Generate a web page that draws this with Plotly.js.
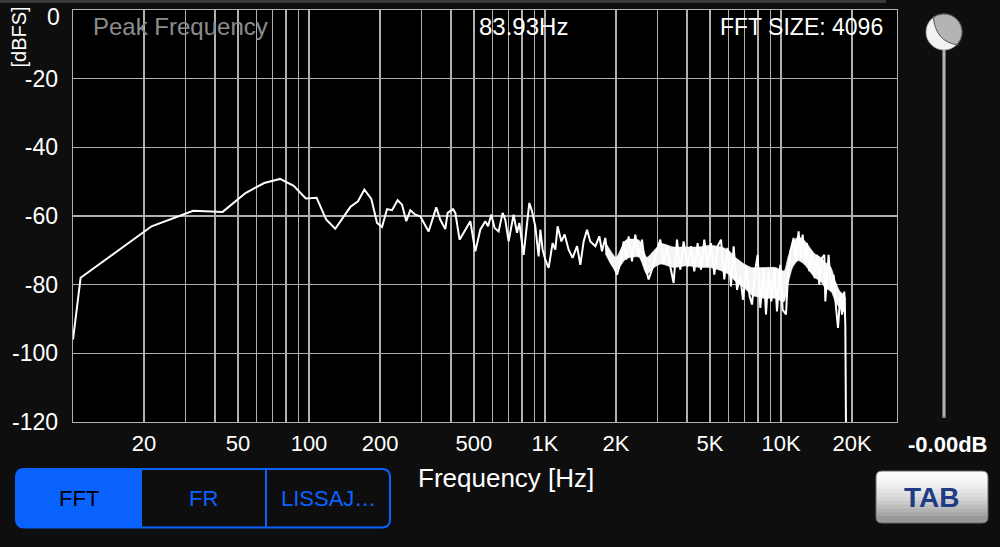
<!DOCTYPE html>
<html>
<head>
<meta charset="utf-8">
<script src="https://cdn.plot.ly/plotly-3.0.1.min.js"></script>
<style>
html,body{margin:0;padding:0;background:#0e0e0e;overflow:hidden;}
#chart{width:1000px;height:547px;}
</style>
</head>
<body>
<div id="chart"></div>
<script>
// ---- data (frequency in Hz, level in dBFS) ----
const freqHz = [
  10, 10.77, 21.53, 32.3, 43.07, 53.83, 64.6, 75.37, 86.13, 96.9,
  107.7, 118.4, 129.2, 149.6, 161.3, 171.6, 183.7, 194.2, 203.9, 214.1,
  224.8, 237.4, 247.8, 258.4, 268.7, 282.1, 296.2, 321.2, 346.2, 360.0,
  378.0, 386.7, 407.6, 416.8, 434.6, 456.3, 482.5, 506.7, 531.8, 558.5,
  573.5, 592.3, 611.6, 636.0, 661.3, 678.8, 701.1, 736.2, 761.0, 778.4,
  811.7, 831.0, 858.2, 881.0, 909.8, 939.5, 955.2, 976.8, 1003, 1036,
  1077, 1106, 1131, 1173, 1211, 1259, 1309, 1367, 1412, 1458,
  1507, 1556, 1634, 1699, 1744, 1801, 1831, 1891, 1953, 2019,
  2085, 2154, 2211, 2261, 2337, 2413, 2492, 2576, 2661, 2748,
  2869, 2983, 3081, 3182, 3289, 3396, 3507, 3625, 3744, 3867,
  4021, 4156, 4292, 4433, 4581, 4732, 4887, 5051, 5217, 5388,
  5569, 5751, 5940, 6140, 6299, 6511, 6724, 6902, 7129, 7362,
  7537, 7783, 7960, 8172, 8440, 8640, 8860, 9096, 9395, 9618,
  9931, 10160, 10500, 10708, 10950, 11310, 11580, 11870, 12110, 12350,
  12680, 12890, 13180, 13530, 13880, 14210, 14530, 14920, 15260, 15410,
  15910, 16330, 16710, 17110, 17440, 17840, 18140, 18540, 18730, 18910
];
const levelDb = [
  -96, -78, -63.0, -58.5, -58.8, -53.3, -50.4, -49.2, -51.2, -54.9,
  -54.7, -61.1, -63.7, -57.4, -55.7, -52.3, -55.0, -62.0, -63.2, -58.0,
  -58.3, -55.4, -56.7, -61.5, -58.3, -59.6, -60.1, -64.5, -57.5, -61.1,
  -63.8, -59.1, -58.0, -59.1, -66.9, -64.5, -61.5, -70.3, -64.0, -61.5,
  -63.0, -59.6, -63.5, -64.5, -59.1, -61.1, -67.4, -59.6, -64.9, -62.0,
  -71.3, -64.9, -56.2, -58.6, -63.0, -71.8, -64.0, -69.8, -72.7, -75.1,
  -67.9, -69.8, -63.0, -67.4, -65.4, -69.8, -72.2, -68.8, -74.2, -67.4,
  -64.0, -67.4, -68.8, -65.9, -70.3, -66.4, -70.8, -73.2, -74.7, -77.1,
  -73.7, -67.4, -72.7, -65.9, -73.2, -65.4, -71.8, -66.9, -74.7, -78.5,
  -74.7, -69.8, -66.9, -73.7, -68.8, -74.7, -79.5, -66.9, -75.6, -67.4,
  -74.7, -68.8, -76.1, -67.9, -75.6, -66.9, -74.7, -67.9, -77.1, -68.8,
  -66.9, -78.5, -69.3, -80.5, -68.8, -81.5, -77.6, -84.4, -74.7, -83.4,
  -85.8, -75.6, -71.3, -86.8, -75.1, -88.7, -76.1, -84.9, -75.6, -87.8,
  -74.2, -87.3, -88.7, -77.1, -70.3, -66.4, -73.2, -64.5, -72.2, -65.4,
  -74.2, -67.9, -76.1, -70.3, -78.1, -71.3, -80.0, -72.2, -71.3, -84.9,
  -71.3, -82.0, -77.1, -86.8, -92.6, -82.9, -88.7, -82.0, -91.7, -135
];
// dense part of the spectrum: the solid white core of the trace
const bandFreqHz = [
  1800, 2000, 2200, 2500, 2700, 2900, 3100, 3500, 4000, 4500,
  5000, 5600, 6000, 6400, 7000, 7500, 8500, 9500, 10300, 10700,
  11200, 11800, 12500, 13200, 13900, 14700, 15400, 16300, 17000, 17800,
  18500, 18800
];
const bandUpperDb = [
  -67.5, -72, -67, -67, -72, -70, -68, -69, -69, -69,
  -68.5, -69, -70, -72, -74, -75, -75, -75, -76, -72,
  -68, -66, -67, -69, -71, -72, -73.5, -75, -79, -82,
  -83, -84
];
const bandLowerDb = [
  -71, -76, -72.5, -72, -77, -75, -74, -75, -74.5, -75,
  -75, -76, -77, -79, -81, -83, -84, -84, -85, -80,
  -75, -73, -74, -76, -78, -79, -81, -82, -85, -87,
  -88, -89
];

// ---- axes ----
const gridFreqs = [10,20,30,40,50,60,70,80,90,
  100,200,300,400,500,600,700,800,900,
  1000,2000,3000,4000,5000,6000,7000,8000,9000,
  10000,20000];
const labeledFreqs = [20,50,100,200,500,1000,2000,5000,10000,20000];
const labeledText  = ["20","50","100","200","500","1K","2K","5K","10K","20K"];
const yTickVals = [0,-20,-40,-60,-80,-100,-120];
const yTickText = ["0","-20","-40","-60","-80","-100","-120"];

// ---- header texts ----
const peakLabel = "Peak Frequency";
const peakValue = "83.93Hz";
const fftSizeText = "FFT SIZE: 4096";
const gainText = "-0.00dB";
const tabText = "TAB";
const segmentLabels = ["FFT","FR","LISSAJ\u2026"];
const xTitle = "Frequency [Hz]";
const yTitle = "[dBFS]";

// ---- layout geometry (pixels) ----
const W = 1000, H = 547;
const L = 73, R = 897, T = 10, B = 422;
const px = x => (x - L) / (R - L);
const py = y => (B - y) / (B - T);

const gridText = gridFreqs.map(f => {
  const i = labeledFreqs.indexOf(f);
  return i >= 0 ? labeledText[i] : "";
});
// the top label ("0") is drawn as an annotation so it is not clipped by the window edge
const yTickTextShown = yTickVals.map((v, i) => v === 0 ? "" : yTickText[i]);

const FONT = "Liberation Sans, Arial, Helvetica, sans-serif";
const BLUE = "#0a62ff";

function roundRect(x0, y0, x1, y1, r, topR, botR) {
  const rt = topR ? r : 0, rb = botR ? r : 0;
  let p = `M${px(x0 + rt)},${py(y0)} L${px(x1 - rt)},${py(y0)} `;
  p += rt ? `Q${px(x1)},${py(y0)} ${px(x1)},${py(y0 + rt)} ` : "";
  p += `L${px(x1)},${py(y1 - rb)} `;
  p += rb ? `Q${px(x1)},${py(y1)} ${px(x1 - rb)},${py(y1)} ` : "";
  p += `L${px(x0 + rb)},${py(y1)} `;
  p += rb ? `Q${px(x0)},${py(y1)} ${px(x0)},${py(y1 - rb)} ` : "";
  p += `L${px(x0)},${py(y0 + rt)} `;
  p += rt ? `Q${px(x0)},${py(y0)} ${px(x0 + rt)},${py(y0)} ` : "";
  return p + "Z";
}
function leftRoundRect(x0, y0, x1, y1, r) {
  let p = `M${px(x0 + r)},${py(y0)} L${px(x1)},${py(y0)} L${px(x1)},${py(y1)} L${px(x0 + r)},${py(y1)} `;
  p += `Q${px(x0)},${py(y1)} ${px(x0)},${py(y1 - r)} L${px(x0)},${py(y0 + r)} Q${px(x0)},${py(y0)} ${px(x0 + r)},${py(y0)} Z`;
  return p;
}

const shapes = [];
// top status strip
shapes.push({type:"rect", xref:"paper", yref:"paper", x0:px(0), x1:px(886), y0:py(3), y1:py(0),
  fillcolor:"#3a3a3a", line:{width:0}, layer:"above"});
// slider track
shapes.push({type:"line", xref:"paper", yref:"paper", x0:px(944), x1:px(944), y0:py(48), y1:py(418),
  line:{color:"#8a8a8a", width:3.5}});
shapes.push({type:"line", xref:"paper", yref:"paper", x0:px(944), x1:px(944), y0:py(48), y1:py(416),
  line:{color:"#d8d8d8", width:1}});
// knob
const kcx = 944, kcy = 32, kr = 18;
shapes.push({type:"circle", xref:"paper", yref:"paper", x0:px(kcx - kr), x1:px(kcx + kr), y0:py(kcy + kr), y1:py(kcy - kr),
  fillcolor:"#f2f2f2", line:{color:"#a0a0a0", width:0.8}});
(function(){
  const angs = [42, 25, 10, -5, -20, -35, -50, -65, -80, -95, -110, -124];
  let p = `M${px(933.3)},${py(16)} Q${px(935)},${py(42)} ${px(958.3)},${py(45)} `;
  angs.forEach(a => {
    const rad = a * Math.PI / 180;
    p += `L${px(kcx + kr * Math.cos(rad))},${py(kcy + kr * Math.sin(rad))} `;
  });
  p += "Z";
  shapes.push({type:"path", xref:"paper", yref:"paper", path:p, fillcolor:"#b4b4b4", line:{color:"#555555", width:1}});
})();
// TAB button (vertical gradient approximated by bands)
const bx0 = 876, bx1 = 988, by0 = 471, by1 = 523, br = 6;
shapes.push({type:"path", xref:"paper", yref:"paper", path:roundRect(bx0, by0, bx1, by1, br, true, true),
  fillcolor:"#c8c8c8", line:{width:0}});
shapes.push({type:"path", xref:"paper", yref:"paper", path:roundRect(bx0, by0, bx1, by0 + 7, br, true, false),
  fillcolor:"#fbfbfb", line:{width:0}});
const bandCols = ["#f7f7f7","#f2f2f2","#ececec","#e5e5e5","#dddddd","#d4d4d4","#cacaca","#bebebe","#b2b2b2","#a6a6a6"];
const bandTop = by0 + 7, bandBot = by1 - 7, bandH = (bandBot - bandTop) / bandCols.length;
bandCols.forEach((c, i) => {
  shapes.push({type:"rect", xref:"paper", yref:"paper", x0:px(bx0), x1:px(bx1),
    y0:py(bandTop + (i + 1) * bandH + 0.3), y1:py(bandTop + i * bandH), fillcolor:c, line:{width:0}});
});
shapes.push({type:"path", xref:"paper", yref:"paper", path:roundRect(bx0, by1 - 7, bx1, by1, br, false, true),
  fillcolor:"#979797", line:{width:0}});
shapes.push({type:"path", xref:"paper", yref:"paper", path:roundRect(bx0, by0, bx1, by1, br, true, true),
  fillcolor:"rgba(0,0,0,0)", line:{color:"#6a6a6a", width:1}});
// segmented control
const sx0 = 16, sx1 = 390, sy0 = 469, sy1 = 527.5, sr = 8, d1 = 141, d2 = 266;
shapes.push({type:"path", xref:"paper", yref:"paper", path:leftRoundRect(sx0, sy0, d1, sy1, sr),
  fillcolor:BLUE, line:{width:0}});
shapes.push({type:"path", xref:"paper", yref:"paper", path:roundRect(sx0, sy0, sx1, sy1, sr, true, true),
  fillcolor:"rgba(0,0,0,0)", line:{color:BLUE, width:2}});
[d1, d2].forEach(d => shapes.push({type:"line", xref:"paper", yref:"paper", x0:px(d), x1:px(d), y0:py(sy1), y1:py(sy0),
  line:{color:BLUE, width:2}}));

function ann(text, x, y, size, color, opts) {
  return Object.assign({text:text, xref:"paper", yref:"paper", x:px(x), y:py(y), showarrow:false,
    xanchor:"center", yanchor:"middle", font:{family:FONT, size:size, color:color}}, opts || {});
}
const annotations = [
  ann(yTickText[0], 62, 16.5, 23, "#ffffff", {xanchor:"right"}),
  ann(peakLabel, 90.5, 27, 24, "#8c8c8c", {xanchor:"left"}),
  ann(peakValue, 523.5, 27, 24, "#ffffff"),
  ann(fftSizeText, 884.5, 27, 23, "#ffffff", {xanchor:"right"}),
  ann(yTitle, 18, 37.5, 20, "#ffffff", {textangle:-90}),
  ann(xTitle, 506, 478, 26, "#ffffff"),
  ann(gainText, 947.5, 444, 22, "#ffffff", {font:{family:FONT, size:22, color:"#ffffff", weight:"bold"}}),
  ann(tabText, 931, 497, 28, "#1e3c84", {font:{family:FONT, size:28, color:"#1e3c84", weight:"bold"}}),
  ann(segmentLabels[0], 78.5, 498.5, 22, "#000000"),
  ann(segmentLabels[1], 203, 498.5, 22, BLUE),
  ann(segmentLabels[2], 328, 498.5, 22, BLUE)
];

const bandLower = {
  x: bandFreqHz, y: bandLowerDb, type:"scatter", mode:"lines",
  line:{color:"#ffffff", width:0.5, shape:"spline", smoothing:0.6}, hoverinfo:"skip"
};
const bandUpper = {
  x: bandFreqHz, y: bandUpperDb, type:"scatter", mode:"lines", fill:"tonexty",
  fillcolor:"#f4f4f4", line:{color:"#ffffff", width:0.5, shape:"spline", smoothing:0.6}, hoverinfo:"skip"
};
const trace = {
  x: freqHz, y: levelDb, type:"scatter", mode:"lines",
  line:{color:"#ffffff", width:2, shape:"linear"},
  hoverinfo:"skip", cliponaxis:true
};

const layout = {
  width:W, height:H,
  margin:{l:L, r:W - R, t:T, b:H - B, pad:0},
  paper_bgcolor:"#0e0e0e", plot_bgcolor:"#000000",
  showlegend:false,
  xaxis:{type:"log", range:[1, 4.4915], tickmode:"array", tickvals:gridFreqs, ticktext:gridText,
    showgrid:true, gridcolor:"#b0b0b0", gridwidth:1.3, zeroline:false,
    showline:true, mirror:true, linecolor:"#b0b0b0", linewidth:1.3,
    ticks:"outside", ticklen:1, tickcolor:"rgba(0,0,0,0)",
    tickfont:{family:FONT, size:22, color:"#ffffff"}, fixedrange:true},
  yaxis:{range:[-120, 0], tickmode:"array", tickvals:yTickVals, ticktext:yTickTextShown,
    showgrid:true, gridcolor:"#b0b0b0", gridwidth:1.3, zeroline:false,
    showline:true, mirror:true, linecolor:"#b0b0b0", linewidth:1.3,
    ticks:"outside", ticklen:9, tickcolor:"rgba(0,0,0,0)",
    tickfont:{family:FONT, size:23, color:"#ffffff"}, fixedrange:true},
  shapes:shapes,
  annotations:annotations
};

Plotly.newPlot("chart", [bandLower, bandUpper, trace], layout, {displayModeBar:false, staticPlot:true});
</script>
</body>
</html>
